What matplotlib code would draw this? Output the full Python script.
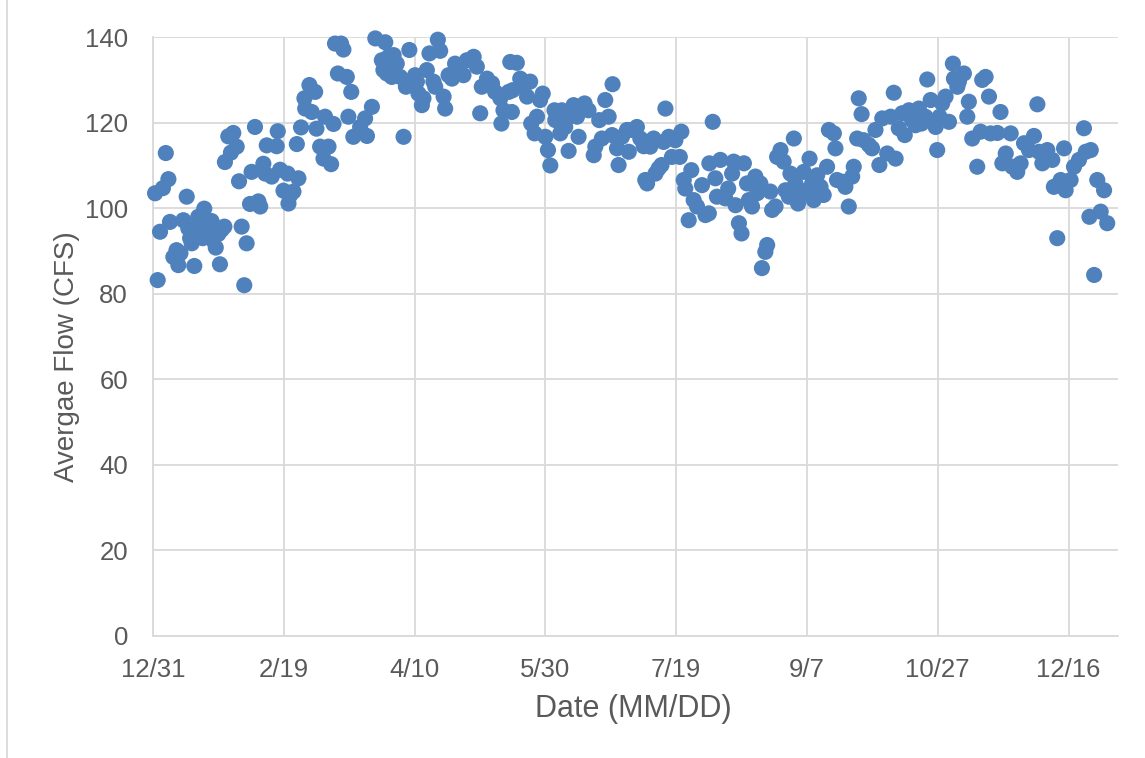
import matplotlib
matplotlib.use("Agg")
import matplotlib.pyplot as plt
from matplotlib.lines import Line2D

plt.rcParams['font.family'] = ['Liberation Sans', 'DejaVu Sans']

# day offset from 12/31 and average flow (CFS)
days = [
    0.8, 1.8, 2.7, 3.8, 4.9, 5.9, 6.5, 7.8, 9.0, 9.7, 10.5, 11.6, 12.9, 13.5, 14.2, 14.8,
    15.8, 16.5, 17.3, 18.4, 19.0, 19.6, 20.5, 21.8, 22.4, 23.0, 24.0, 25.0, 25.6, 26.3,
    27.3, 27.5, 28.8, 29.8, 30.7, 32.0, 32.9, 33.9, 34.9, 35.8, 37.1, 37.7, 39.0, 40.3,
    41.0, 42.2, 42.9, 43.5,
    45.4, 47.3, 47.7, 48.6, 49.9, 51.5, 51.8, 52.4, 53.7, 55.0, 55.6, 56.6, 57.9, 58.2,
    59.8, 60.7, 62.0, 62.5, 63.9, 65.2, 65.8, 67.1, 68.1, 69.0, 69.6, 70.7, 71.9, 72.8,
    74.1, 74.7, 75.8, 76.6, 79.2, 81.1, 81.8, 83.7, 85.0, 87.5, 88.1, 89.4, 90.0,
    88.8, 92.0, 90.7, 93.2, 91.3, 94.5, 95.8, 96.7, 98.0, 100.2, 100.9, 101.5, 102.8,
    103.4, 104.7, 105.7, 107.2, 107.9, 108.9, 109.8, 111.1, 111.7, 113.0, 114.3, 115.5,
    116.8, 118.7, 120.0, 122.6, 123.8, 125.1, 125.7, 127.7, 129.6, 130.8, 132.8, 133.2,
    134.0, 136.0, 136.6,
    137.2, 137.5, 139.1, 140.4, 141.7, 143.0, 144.2, 144.6, 145.9, 146.8, 148.0, 149.0,
    150.0, 151.0, 151.9, 153.5, 153.8, 155.7, 156.3, 157.6, 158.9, 159.5, 160.8, 162.1,
    162.7, 165.0, 166.5, 168.5, 169.1, 170.6, 171.6, 172.9, 174.2, 175.5, 175.7, 177.4,
    178.0, 179.3, 181.2, 181.9,
    183.1, 185.0, 186.3, 187.6, 188.2, 188.9, 190.1, 191.4, 192.1, 193.3, 194.4, 195.2,
    195.9, 197.2, 198.4, 199.7, 201.4, 202.0, 202.9, 203.5, 204.8, 205.8, 206.7, 208.0,
    209.9, 211.2, 212.5, 212.7, 214.0, 215.0, 215.6, 216.9, 218.8, 219.9, 221.4, 222.0,
    222.7, 224.0, 225.0, 225.9, 227.1, 227.8,
    228.4, 229.0, 230.3, 231.0, 232.2, 232.8, 234.1, 234.8, 236.0, 236.7, 238.0, 238.6,
    239.9, 241.1, 241.8, 243.1, 243.7, 245.0, 245.6, 246.6, 247.5, 248.8, 250.1, 251.0,
    252.0, 252.6, 253.9, 255.2, 256.4, 257.7, 258.4, 260.3, 260.9, 261.5, 263.5, 264.7,
    266.0, 267.3, 267.9, 269.2, 269.8, 270.9, 271.7, 273.7,
    274.9, 276.2, 277.7, 278.8, 280.7, 282.0, 283.2, 283.9, 285.1, 286.4, 287.4, 289.0,
    290.2, 291.5, 292.8, 293.8, 295.3, 296.0, 297.3, 299.2, 299.8, 300.7, 301.7, 303.0,
    304.3, 305.8, 306.2, 307.5, 308.1, 310.0, 311.3, 311.9, 313.2, 315.1, 316.4, 317.0,
    318.3, 319.6, 320.2,
    322.8, 324.0, 324.7, 326.0, 327.9, 328.5, 330.4, 331.7, 333.0, 334.9, 336.8, 338.1,
    338.7, 340.0, 341.9, 343.8, 344.4, 345.7, 347.0, 348.3, 348.9, 350.8, 352.1, 354.0,
    355.9, 356.6, 358.5, 358.0, 359.8, 361.0, 362.3, 363.6, 364.8,
]

flow = [
    103.5, 83.2, 94.5, 104.7, 112.9, 106.8, 96.8, 88.6, 90.2, 86.7, 89.5, 97.2, 102.7, 95.3, 93.0, 91.8,
    86.5, 94.5, 98.0, 96.0, 93.0, 99.9, 94.2, 95.7, 97.0, 92.5, 90.8, 94.0, 86.9, 95.0,
    95.7, 110.8, 116.8, 113.0, 117.6, 114.4, 106.3, 95.7, 82.0, 91.8, 101.0, 108.5, 119.0, 101.6,
    100.4, 110.4, 108.1, 114.7,
    107.4, 114.5, 118.0, 109.0, 104.1, 108.1, 101.1, 103.0, 103.9, 115.0, 107.0, 118.9, 125.7, 123.3,
    128.8, 122.5, 127.2, 118.6, 114.4, 111.6, 121.4, 114.4, 110.3, 119.7, 138.5, 131.5, 138.5, 137.1,
    130.7, 121.4, 127.2, 116.7, 119.0, 121.0, 116.9, 123.7, 139.7, 134.6, 132.3, 131.5, 135.4,
    138.8, 135.8, 132.3, 133.8, 130.7, 130.7, 116.7, 128.4, 137.0, 131.1, 129.6, 126.8, 124.1,
    125.7, 132.3, 136.2, 129.6, 128.4, 139.4, 136.8, 126.1, 123.3, 131.1, 130.3, 133.8,
    132.3, 131.1, 134.6, 135.4, 133.1, 122.2, 128.4, 130.3, 129.2, 127.2, 125.7, 119.8,
    122.9, 127.2, 134.2,
    122.5, 127.6, 134.0, 130.3, 128.4, 126.1, 129.6, 119.8, 117.5, 121.4, 125.3, 126.8,
    116.7, 113.6, 110.0, 122.9, 120.6, 117.5, 122.9, 119.0, 113.4, 121.4, 124.1, 121.4,
    116.7, 124.5, 122.9, 112.4, 114.4, 120.6, 116.3, 125.3, 121.4, 117.1, 129.0, 114.0,
    110.1, 116.7, 118.3, 113.2,
    118.3, 119.0, 116.3, 114.5, 106.6, 105.8, 114.4, 116.3, 108.1, 109.3, 110.1, 115.5,
    123.3, 116.7, 112.0, 115.9, 112.0, 117.9, 106.6, 104.6, 97.2, 108.9, 101.9, 100.4,
    105.4, 98.4, 98.8, 110.5, 120.2, 107.0, 102.7, 111.3, 102.3, 104.6, 108.1, 110.9,
    100.7, 96.5, 94.1, 110.5, 105.8, 101.9,
    105.8, 100.4, 107.4, 103.5, 105.8, 86.0, 89.8, 91.4, 103.9, 99.6, 100.4, 112.0,
    113.6, 110.9, 104.2, 102.7, 108.1, 116.3, 105.8, 101.1, 104.2, 108.5, 103.5, 111.6,
    105.8, 101.9, 107.7, 105.0, 103.1, 109.7, 118.3, 117.5, 114.0, 106.6, 106.2, 105.0,
    100.4, 107.4, 109.7, 116.3, 125.7, 122.0, 115.9, 114.8,
    114.0, 118.3, 110.1, 121.0, 112.8, 121.4, 127.0, 111.6, 118.7, 122.2, 117.1, 122.9,
    120.6, 119.4, 123.3, 119.8, 121.4, 130.1, 125.3, 119.0, 113.6, 121.4, 124.5, 126.1,
    120.2, 133.8, 130.3, 128.4, 129.6, 131.5, 121.4, 124.9, 116.3, 109.7, 117.9, 130.0,
    130.7, 126.1, 117.5,
    117.6, 122.5, 110.5, 112.8, 117.5, 109.7, 108.5, 110.5, 115.2, 113.6, 116.9, 124.3,
    113.2, 110.5, 113.6, 111.3, 105.0, 93.0, 106.6, 114.0, 104.2, 106.6, 109.7, 111.3,
    118.7, 113.2, 113.6, 98.0, 84.4, 106.6, 99.2, 104.2, 96.5,
]

tick_days = [0, 50, 100, 150, 200, 250, 300, 350]
tick_labels = ["12/31", "2/19", "4/10", "5/30", "7/19", "9/7", "10/27", "12/16"]
y_ticks = [0, 20, 40, 60, 80, 100, 120, 140]

grid_c = "#d9d9d9"
text_c = "#595959"

fig = plt.figure(figsize=(11.45, 7.58), dpi=100)
ax = fig.add_axes([0.1336, 0.161, 0.843, 0.790])

ax.scatter(days, flow, s=135, color="#4f81bd", edgecolors="none", zorder=3, clip_on=False)

ax.set_xlim(0, 369)
ax.set_ylim(0, 140)
ax.set_xticks(tick_days)
ax.set_xticklabels(tick_labels)
ax.set_yticks(y_ticks)

ax.grid(True, color=grid_c, linewidth=1.3, zorder=0)
ax.set_axisbelow(True)
for s in ["top", "right"]:
    ax.spines[s].set_visible(False)
for s in ["left", "bottom"]:
    ax.spines[s].set_color(grid_c)
    ax.spines[s].set_linewidth(1.3)

ax.tick_params(axis="both", length=0, labelsize=18.5, colors=text_c)
ax.tick_params(axis="x", pad=16)
ax.tick_params(axis="y", pad=18)

ax.set_xlabel("Date (MM/DD)", fontsize=22, color=text_c, va="top")
ax.set_ylabel("Avergae Flow (CFS)", fontsize=20, color=text_c)
ax.xaxis.set_label_coords(0.498, -0.097)
ax.yaxis.set_label_coords(-0.076, 0.466)

# chart area border on the left edge
fig.add_artist(Line2D([0.0061, 0.0061], [0, 1], transform=fig.transFigure,
                      color=grid_c, linewidth=1.3))

fig.savefig("out.png", dpi=100)
